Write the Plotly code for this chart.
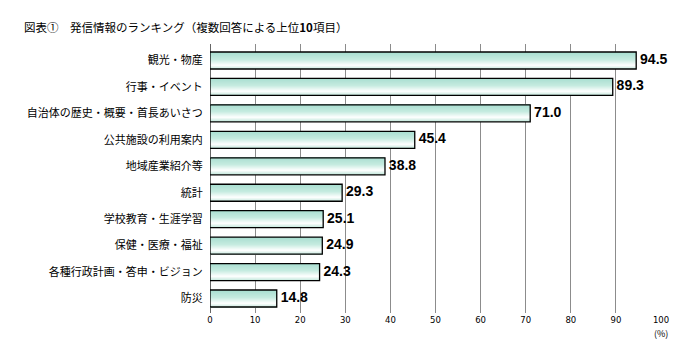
import plotly.graph_objects as go

categories = ["観光・物産", "行事・イベント", "自治体の歴史・概要・首長あいさつ", "公共施設の利用案内",
              "地域産業紹介等", "統計", "学校教育・生涯学習", "保健・医療・福祉",
              "各種行政計画・答申・ビジョン", "防災"]
values = [94.5, 89.3, 71.0, 45.4, 38.8, 29.3, 25.1, 24.9, 24.3, 14.8]
x_ticks = [0, 10, 20, 30, 40, 50, 60, 70, 80, 90, 100]
title_text = "図表①　発信情報のランキング（複数回答による上位<b>10</b>項目）"
unit_text = "(%)"

pos = list(range(len(categories)))
BAR_W = 0.643
N_STRIPS = 17
stops = [(0.0, (166, 221, 207)), (0.45, (198, 235, 224)), (0.78, (255, 255, 255)), (1.0, (200, 234, 223))]

L, R, T, B = 210, 35, 44, 44
W, H = 696, 357
PW, PH = W - L - R, H - T - B


def grad(t):
    for (t0, c0), (t1, c1) in zip(stops[:-1], stops[1:]):
        if t0 <= t <= t1:
            f = (t - t0) / (t1 - t0) if t1 > t0 else 0
            return "rgb(%d,%d,%d)" % tuple(round(a + (b - a) * f) for a, b in zip(c0, c1))
    return "rgb(%d,%d,%d)" % stops[-1][1]


fig = go.Figure()
h = BAR_W / N_STRIPS
for j in range(N_STRIPS):
    t = (j + 0.5) / N_STRIPS
    w = h * 1.6 if j < N_STRIPS - 1 else h
    fig.add_trace(go.Bar(
        x=values, y=pos, orientation="h",
        width=w, offset=-BAR_W / 2 + j * h,
        marker=dict(color=grad(t), line=dict(width=0)),
        hoverinfo="skip", showlegend=False,
    ))

# outline
fig.add_trace(go.Bar(
    x=values, y=pos, orientation="h", width=BAR_W,
    marker=dict(color="rgba(0,0,0,0)", line=dict(color="black", width=1.3)),
    showlegend=False,
))

fig.add_trace(go.Scatter(
    x=values, y=pos, mode="text",
    text=["&nbsp;%.1f" % v for v in values], textposition="middle right",
    textfont=dict(family="Liberation Sans, Arial", size=14, color="black"),
    texttemplate="<b>%{text}</b>", showlegend=False, hoverinfo="skip",
    cliponaxis=False,
))

fig.update_layout(
    width=W, height=H,
    margin=dict(l=L, r=R, t=T, b=B),
    paper_bgcolor="white", plot_bgcolor="white",
    barmode="overlay",
    font=dict(family="Noto Sans CJK JP", size=11, color="black"),
    xaxis=dict(range=[0, 100], tickvals=x_ticks, showgrid=True, gridcolor="#8c8c8c", gridwidth=1,
               zeroline=True, zerolinecolor="#666666", zerolinewidth=1.3, automargin=False,
               showline=False, ticks="", tickfont=dict(family="DejaVu Sans", size=8.5, color="black"),
               fixedrange=True),
    yaxis=dict(range=[len(categories) - 1 + 0.548, -0.624], tickvals=pos, ticktext=categories,
               showgrid=False, zeroline=False, showline=False, automargin=False,
               ticks="outside", ticklen=4, tickcolor="rgba(0,0,0,0)",
               tickfont=dict(family="Noto Sans CJK JP", size=11, color="black")),
    annotations=[
        dict(text=title_text, x=(22 - L) / PW, y=(H - B - 27) / PH, xref="paper", yref="paper",
             xanchor="left", yanchor="middle", showarrow=False,
             font=dict(family="Noto Sans CJK JP", size=11.5, color="black")),
        dict(text=unit_text, x=100, y=0, xref="x", yref="paper", yshift=-12,
             xanchor="center", yanchor="top", showarrow=False,
             font=dict(family="Noto Sans CJK JP", size=9, color="black")),
    ],
)

fig.write_html("out.html", config={"displayModeBar": False},
               post_script="document.body.style.margin='0';")
